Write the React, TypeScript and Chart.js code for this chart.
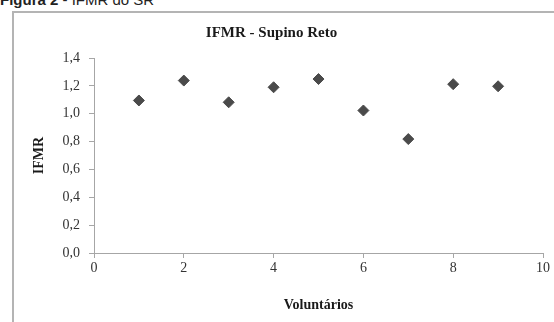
import React, { useEffect, useRef } from "react";
import { Chart, registerables } from "chart.js";

Chart.register(...registerables);

const volunteers = [1, 2, 3, 4, 5, 6, 7, 8, 9];
const ifmr = [1.095, 1.238, 1.082, 1.19, 1.249, 1.023, 0.818, 1.212, 1.197];
const xTicks = [0, 2, 4, 6, 8, 10];
const yTicks = [0, 0.2, 0.4, 0.6, 0.8, 1.0, 1.2, 1.4];

const chartTitle = "IFMR - Supino Reto";
const xTitle = "Voluntários";
const yTitle = "IFMR";

const serif = "'Liberation Serif', 'Times New Roman', serif";
const axisGray = "#a6a6a6";

export default function App() {
  const ref = useRef<HTMLCanvasElement | null>(null);

  useEffect(() => {
    if (!ref.current) return;
    const chart = new Chart(ref.current, {
      type: "scatter",
      data: {
        datasets: [
          {
            data: volunteers.map((v, i) => ({ x: v, y: ifmr[i] })),
            pointStyle: "rectRot",
            pointRadius: 5.5,
            pointBackgroundColor: "#4a4a4a",
            pointBorderColor: "#4a4a4a",
            pointBorderWidth: 1,
          },
        ],
      },
      options: {
        animation: false,
        responsive: false,
        devicePixelRatio: 1,
        layout: { padding: { left: 0, right: 33, top: 0, bottom: 0 } },
        plugins: {
          legend: { display: false },
          tooltip: { enabled: false },
          title: {
            display: true,
            text: chartTitle,
            color: "#1a1a1a",
            font: { family: serif, size: 15, weight: "bold" },
            padding: { top: 24, bottom: 16 },
          },
        },
        scales: {
          x: {
            type: "linear",
            min: 0,
            max: 10,
            afterFit: (s: any) => {
              s.height = 69;
            },
            afterBuildTicks: (s: any) => {
              s.ticks = xTicks.map((v) => ({ value: v }));
            },
            ticks: {
              color: "#333",
              font: { family: serif, size: 14 },
              padding: 2,
              maxRotation: 0,
            },
            grid: {
              drawOnChartArea: false,
              drawTicks: true,
              tickLength: 5,
              color: axisGray,
            },
            border: { display: true, color: axisGray, width: 1 },
            title: {
              display: true,
              text: xTitle,
              color: "#1a1a1a",
              font: { family: serif, size: 14, weight: "bold" },
              padding: { top: 0, bottom: 8 },
            },
          },
          y: {
            type: "linear",
            min: 0,
            max: 1.4,
            afterFit: (s: any) => {
              s.width = 94;
            },
            afterBuildTicks: (s: any) => {
              s.ticks = yTicks.map((v) => ({ value: v }));
            },
            ticks: {
              color: "#333",
              font: { family: serif, size: 14 },
              padding: 9,
              callback: (v: any) => Number(v).toFixed(1).replace(".", ","),
            },
            grid: {
              drawOnChartArea: false,
              drawTicks: true,
              tickLength: 5,
              color: axisGray,
            },
            border: { display: true, color: axisGray, width: 1 },
            title: {
              display: true,
              text: yTitle,
              color: "#1a1a1a",
              font: { family: serif, size: 14, weight: "bold" },
              padding: { top: 31, bottom: 0 },
            },
          },
        },
      },
    });
    return () => chart.destroy();
  }, []);

  return (
    <div
      style={{
        position: "fixed",
        left: 0,
        top: 0,
        width: 554,
        height: 322,
        overflow: "hidden",
        background: "#ffffff",
      }}
    >
      <div
        style={{
          position: "absolute",
          left: 0,
          top: -8,
          whiteSpace: "nowrap",
          fontFamily: "'Liberation Sans', Arial, sans-serif",
          fontSize: 15,
          lineHeight: 1,
          color: "#222",
        }}
      >
        <b>Figura 2</b> - IFMR do SR
      </div>
      <div
        style={{
          position: "absolute",
          left: 12,
          top: 11,
          width: 560,
          height: 400,
          border: "2px solid #b4b4b4",
          boxSizing: "border-box",
        }}
      />
      <canvas
        ref={ref}
        width={576}
        height={322}
        style={{ position: "absolute", left: 0, top: 0, width: 576, height: 322 }}
      />
    </div>
  );
}
